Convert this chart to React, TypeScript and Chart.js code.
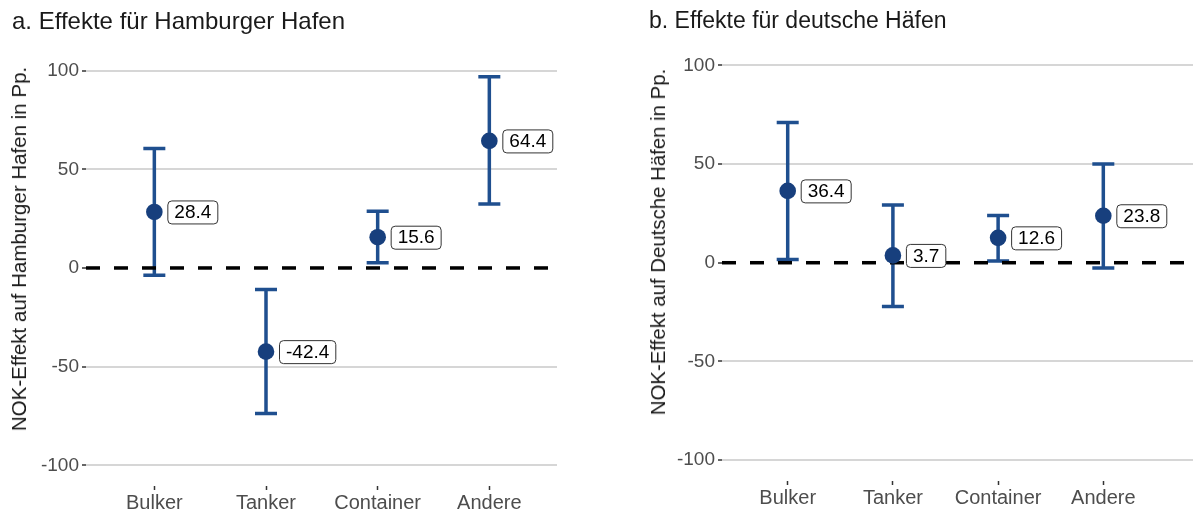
import React, { useEffect, useRef } from "react";
import { Chart, registerables } from "chart.js";

Chart.register(...registerables);

const categories = ["Bulker", "Tanker", "Container", "Andere"];
const yTicks = [-100, -50, 0, 50, 100];

const hamburgEstimate = [28.4, -42.4, 15.6, 64.4];
const hamburgLower = [-3.7, -73.7, 2.6, 32.4];
const hamburgUpper = [60.6, -10.9, 28.8, 96.9];

const deutschEstimate = [36.4, 3.7, 12.6, 23.8];
const deutschLower = [1.6, -22.2, 0.9, -2.7];
const deutschUpper = [71.0, 29.2, 23.9, 50.0];

const titleA = "a. Effekte für Hamburger Hafen";
const titleB = "b. Effekte für deutsche Häfen";
const yTitleA = "NOK-Effekt auf Hamburger Hafen in Pp.";
const yTitleB = "NOK-Effekt auf Deutsche Häfen in Pp.";

const FONT = "'Liberation Sans', Arial, Helvetica, sans-serif";
const POINT_COLOR = "#173f7d";
const BAR_COLOR = "#1f4f8f";

const errorBarPlugin = {
  id: "errorBars",
  beforeDatasetsDraw(chart: any) {
    const { ctx, chartArea, scales } = chart;
    const x = scales.x;
    const y = scales.y;
    const ds = chart.data.datasets[0];
    ctx.save();
    ctx.strokeStyle = BAR_COLOR;
    ctx.lineWidth = 3.5;
    ctx.lineCap = "butt";
    const capHalf = 11;
    ds.data.forEach((p: any, i: number) => {
      const px = x.getPixelForValue(p.x);
      const yl = y.getPixelForValue(ds.lower[i]);
      const yu = y.getPixelForValue(ds.upper[i]);
      ctx.beginPath();
      ctx.moveTo(px, yl);
      ctx.lineTo(px, yu);
      ctx.moveTo(px - capHalf, yl);
      ctx.lineTo(px + capHalf, yl);
      ctx.moveTo(px - capHalf, yu);
      ctx.lineTo(px + capHalf, yu);
      ctx.stroke();
    });
    const y0 = y.getPixelForValue(0);
    ctx.strokeStyle = "#000";
    ctx.lineWidth = 3.5;
    ctx.setLineDash([14, 14]);
    ctx.beginPath();
    ctx.moveTo(chartArea.left, y0);
    ctx.lineTo(chartArea.right, y0);
    ctx.stroke();
    ctx.restore();
  },
  afterDatasetsDraw(chart: any) {
    const { ctx, scales } = chart;
    const x = scales.x;
    const y = scales.y;
    const ds = chart.data.datasets[0];
    ctx.save();
    ctx.font = `19px ${FONT}`;
    ctx.textBaseline = "middle";
    ctx.textAlign = "left";
    ds.data.forEach((p: any) => {
      const px = x.getPixelForValue(p.x);
      const py = y.getPixelForValue(p.y);
      const text = p.y.toFixed(1);
      const tw = ctx.measureText(text).width;
      const padX = 6.5;
      const h = 23;
      const bx = px + 13;
      const by = py - h / 2;
      const w = tw + padX * 2;
      ctx.beginPath();
      (ctx as any).roundRect(bx + 0.5, by + 0.5, w, h, 4);
      ctx.fillStyle = "#ffffff";
      ctx.fill();
      ctx.strokeStyle = "#333333";
      ctx.lineWidth = 1;
      ctx.stroke();
      ctx.fillStyle = "#000000";
      ctx.fillText(text, bx + padX + 0.5, py + 1);
    });
    ctx.restore();
  },
};

function makeConfig(
  est: number[],
  lower: number[],
  upper: number[],
  xMin: number,
  xMax: number,
  yMin: number,
  yMax: number,
  padTop: number,
  padRight: number,
  yAxisWidth: number,
  xAxisHeight: number
): any {
  return {
    type: "scatter",
    data: {
      datasets: [
        {
          data: est.map((v, i) => ({ x: i + 1, y: v })),
          lower,
          upper,
          pointRadius: 8.3,
          pointHoverRadius: 8.3,
          pointBackgroundColor: POINT_COLOR,
          pointBorderWidth: 0,
          pointBorderColor: POINT_COLOR,
        },
      ],
    },
    options: {
      animation: false,
      responsive: false,
      maintainAspectRatio: false,
      layout: { padding: { top: padTop, right: padRight, bottom: 0, left: 0 } },
      plugins: {
        legend: { display: false },
        tooltip: { enabled: false },
        title: { display: false },
      },
      scales: {
        x: {
          type: "linear",
          min: xMin,
          max: xMax,
          afterBuildTicks: (s: any) => {
            s.ticks = categories.map((_, i) => ({ value: i + 1 }));
          },
          afterFit: (s: any) => {
            s.height = xAxisHeight;
          },
          ticks: {
            autoSkip: false,
            maxRotation: 0,
            padding: 1,
            color: "#4d4d4d",
            font: { family: FONT, size: 20 },
            callback: (v: any) => categories[Math.round(v) - 1] ?? "",
          },
          grid: {
            drawOnChartArea: false,
            drawTicks: true,
            tickLength: 4,
            tickColor: "#333333",
            tickWidth: 1.5,
          },
          border: { display: false },
        },
        y: {
          type: "linear",
          min: yMin,
          max: yMax,
          afterBuildTicks: (s: any) => {
            s.ticks = yTicks.map((v) => ({ value: v }));
          },
          afterFit: (s: any) => {
            s.width = yAxisWidth;
          },
          ticks: {
            padding: 3,
            color: "#4d4d4d",
            font: { family: FONT, size: 19 },
            callback: (v: any) => String(v),
          },
          grid: {
            color: (c: any) =>
              c.tick && c.tick.value === 0 ? "rgba(0,0,0,0)" : "#d6d6d6",
            lineWidth: 2,
            drawTicks: true,
            tickLength: 4,
            tickColor: "#333333",
            tickWidth: 1.5,
          },
          border: { display: false },
        },
      },
    },
    plugins: [errorBarPlugin],
  };
}

export default function App() {
  const leftRef = useRef<HTMLCanvasElement | null>(null);
  const rightRef = useRef<HTMLCanvasElement | null>(null);

  useEffect(() => {
    const left = new Chart(
      leftRef.current as HTMLCanvasElement,
      makeConfig(hamburgEstimate, hamburgLower, hamburgUpper, 0.388, 4.606, -110.5, 105, 60.8, 23, 86, 27)
    );
    const right = new Chart(
      rightRef.current as HTMLCanvasElement,
      makeConfig(deutschEstimate, deutschLower, deutschUpper, 0.3755, 4.919, -110.6, 105, 55.5, 20, 122, 32)
    );
    return () => {
      left.destroy();
      right.destroy();
    };
  }, []);

  const titleStyle: React.CSSProperties = {
    position: "absolute",
    top: 9,
    fontFamily: FONT,
    lineHeight: "23px",
    color: "#1a1a1a",
    whiteSpace: "nowrap",
  };
  const yTitleStyle = (cx: number, cy: number, size: number): React.CSSProperties => ({
    position: "absolute",
    left: cx,
    top: cy,
    transform: "translate(-50%, -50%) rotate(-90deg)",
    fontFamily: FONT,
    fontSize: size,
    lineHeight: "20px",
    color: "#1a1a1a",
    whiteSpace: "nowrap",
  });

  return (
    <div
      style={{
        position: "fixed",
        left: 0,
        top: 0,
        width: 1193,
        height: 513,
        overflow: "hidden",
        background: "#ffffff",
      }}
    >
      <canvas
        ref={leftRef}
        width={580}
        height={513}
        style={{ position: "absolute", left: 0, top: 0, width: 580, height: 513 }}
      />
      <canvas
        ref={rightRef}
        width={620}
        height={513}
        style={{ position: "absolute", left: 600, top: 0, width: 620, height: 513 }}
      />
      <div style={{ ...titleStyle, left: 12, fontSize: 24 }}>{titleA}</div>
      <div style={{ ...titleStyle, left: 649, fontSize: 23 }}>{titleB}</div>
      <div style={yTitleStyle(18.5, 248.5, 20.5)}>{yTitleA}</div>
      <div style={yTitleStyle(658, 241.5, 20.4)}>{yTitleB}</div>
    </div>
  );
}
